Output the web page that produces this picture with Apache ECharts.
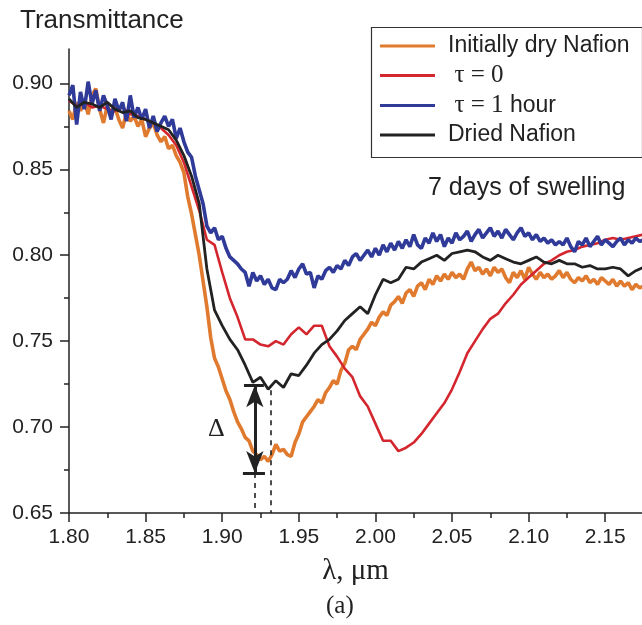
<!DOCTYPE html>
<html>
<head>
<meta charset="utf-8">
<script src="https://cdn.jsdelivr.net/npm/echarts@6/dist/echarts.min.js"></script>
<style>
  body { margin: 0; background: #fff; }
  #chart { width: 642px; height: 625px; }
</style>
</head>
<body>
<div id="chart"></div>
<script>
// wavelength grid (um)
const startWl = 1.80
const fineStep = 0.0025
const coarseStep = 0.005

const seriesNames = ['Initially dry Nafion', 'τ = 0', 'τ = 1 hour', 'Dried Nafion']
const xTickValues = [1.80, 1.85, 1.90, 1.95, 2.00, 2.05, 2.10, 2.15]
const xMinorValues = [1.825, 1.875, 1.925, 1.975, 2.025, 2.075, 2.125]
const yTickValues = [0.65, 0.70, 0.75, 0.80, 0.85, 0.90]
const yMinorValues = [0.675, 0.725, 0.775, 0.825, 0.875]

// initially dry Nafion, step 0.0025
const dryValues = [
  0.884, 0.879, 0.889, 0.884, 0.890, 0.882, 0.893, 0.897, 0.885, 0.877,
  0.887, 0.881, 0.886, 0.879, 0.874, 0.883, 0.878, 0.881, 0.875, 0.879,
  0.869, 0.874, 0.877, 0.870, 0.866, 0.869, 0.862, 0.864, 0.858, 0.854,
  0.848, 0.834, 0.824, 0.812, 0.800, 0.785, 0.770, 0.752, 0.740, 0.735,
  0.728, 0.721, 0.716, 0.709, 0.703, 0.699, 0.694, 0.692, 0.686, 0.684,
  0.681, 0.683, 0.680, 0.684, 0.690, 0.686, 0.687, 0.684, 0.683, 0.691,
  0.696, 0.703, 0.706, 0.709, 0.712, 0.716, 0.714, 0.720, 0.723, 0.727,
  0.725, 0.733, 0.737, 0.745, 0.747, 0.745, 0.751, 0.754, 0.757, 0.761,
  0.759, 0.764, 0.767, 0.765, 0.771, 0.773, 0.776, 0.772, 0.778, 0.780,
  0.776, 0.782, 0.784, 0.780, 0.786, 0.783, 0.788, 0.785, 0.789, 0.786,
  0.790, 0.787, 0.789, 0.786, 0.792, 0.796, 0.791, 0.793, 0.789, 0.792,
  0.788, 0.793, 0.790, 0.792, 0.787, 0.784, 0.790, 0.787, 0.791, 0.786,
  0.793, 0.789, 0.786, 0.790, 0.787, 0.789, 0.786, 0.788, 0.791, 0.787,
  0.790, 0.786, 0.784, 0.787, 0.785, 0.788, 0.784, 0.786, 0.783, 0.787,
  0.785, 0.783, 0.786, 0.782, 0.785, 0.782, 0.784, 0.780, 0.783, 0.781,
  0.782
]

// tau = 0, step 0.005
const tau0Values = [
  0.890, 0.887, 0.889, 0.886, 0.887, 0.885, 0.884, 0.886, 0.882, 0.881,
  0.879, 0.877, 0.874, 0.870, 0.864, 0.854, 0.840, 0.826, 0.809, 0.806,
  0.790, 0.775, 0.764, 0.751, 0.751, 0.748, 0.747, 0.750, 0.748, 0.754,
  0.758, 0.754, 0.759, 0.759, 0.747, 0.741, 0.734, 0.729, 0.718, 0.712,
  0.702, 0.692, 0.692, 0.686, 0.688, 0.691, 0.696, 0.702, 0.708, 0.714,
  0.722, 0.732, 0.743, 0.750, 0.757, 0.763, 0.766, 0.772, 0.777, 0.783,
  0.787, 0.791, 0.795, 0.797, 0.800, 0.802, 0.803, 0.805, 0.806, 0.807,
  0.809, 0.810, 0.809, 0.810, 0.811, 0.812
]

// tau = 1 hour, step 0.0025
const tau1Values = [
  0.893, 0.899, 0.876, 0.895, 0.885, 0.901, 0.888, 0.896, 0.884, 0.893,
  0.887, 0.879, 0.891, 0.884, 0.889, 0.878, 0.893, 0.880, 0.886, 0.879,
  0.885, 0.874, 0.881, 0.872, 0.877, 0.881, 0.875, 0.879, 0.868, 0.874,
  0.866, 0.860, 0.857, 0.846, 0.838, 0.830, 0.817, 0.813, 0.816, 0.809,
  0.811, 0.804, 0.799, 0.797, 0.795, 0.792, 0.790, 0.782, 0.790, 0.785,
  0.788, 0.783, 0.786, 0.781, 0.780, 0.786, 0.784, 0.786, 0.791, 0.787,
  0.792, 0.795, 0.789, 0.790, 0.781, 0.788, 0.786, 0.791, 0.793, 0.790,
  0.794, 0.792, 0.797, 0.794, 0.799, 0.801, 0.797, 0.800, 0.803, 0.799,
  0.804, 0.800, 0.806, 0.802, 0.807, 0.803, 0.808, 0.804, 0.809, 0.805,
  0.812, 0.806, 0.804, 0.810, 0.807, 0.813, 0.808, 0.812, 0.805, 0.810,
  0.807, 0.813, 0.809, 0.811, 0.814, 0.808, 0.812, 0.815, 0.810, 0.813,
  0.816, 0.811, 0.814, 0.810, 0.815, 0.812, 0.809, 0.813, 0.816, 0.811,
  0.813, 0.809, 0.812, 0.808, 0.810, 0.807, 0.809, 0.806, 0.808, 0.806,
  0.810, 0.805, 0.802, 0.808, 0.806, 0.810, 0.805, 0.808, 0.811, 0.806,
  0.809, 0.807, 0.805, 0.808, 0.810, 0.806, 0.809, 0.807, 0.810, 0.808,
  0.809
]

// dried Nafion, step 0.005
const driedValues = [
  0.891, 0.886, 0.889, 0.888, 0.886, 0.889, 0.885, 0.883, 0.884, 0.880,
  0.879, 0.877, 0.875, 0.873, 0.867, 0.858, 0.846, 0.830, 0.792, 0.768,
  0.759, 0.751, 0.745, 0.736, 0.726, 0.729, 0.722, 0.727, 0.723, 0.731,
  0.730, 0.736, 0.743, 0.748, 0.751, 0.756, 0.762, 0.766, 0.770, 0.766,
  0.777, 0.786, 0.784, 0.786, 0.793, 0.792, 0.796, 0.798, 0.800, 0.797,
  0.801, 0.802, 0.803, 0.802, 0.799, 0.797, 0.800, 0.798, 0.796, 0.795,
  0.797, 0.799, 0.796, 0.795, 0.797, 0.795, 0.795, 0.793, 0.794, 0.792,
  0.792, 0.793, 0.792, 0.788, 0.791, 0.793
]

// delta marker (data coords)
const deltaX = 1.9213
const dipX = 1.9318
const deltaTop = 0.7244
const deltaBottom = 0.6733

const pairs = (vals, step) => vals.map((v, i) => [+(startWl + i * step).toFixed(4), v])

const ink = '#222'
const sans = 'Liberation Sans'
const serif = 'Liberation Serif'

let myChart = echarts.init(document.getElementById('chart'))

const lineSeries = (name, vals, step, color, width) => ({
  type: 'line',
  name: name,
  data: pairs(vals, step),
  showSymbol: false,
  symbol: 'none',
  lineStyle: { color: color, width: width },
  itemStyle: { color: color }
})

const minorAxisX = {
  type: 'value', position: 'bottom', min: 1.8, max: 2.174,
  axisLine: { show: false }, splitLine: { show: false },
  axisLabel: { show: false },
  axisTick: { show: true, customValues: xMinorValues, length: 5, lineStyle: { color: ink, width: 1.5 } }
}
const minorAxisY = {
  type: 'value', position: 'left', min: 0.65, max: 0.92,
  axisLine: { show: false }, splitLine: { show: false },
  axisLabel: { show: false },
  axisTick: { show: true, customValues: yMinorValues, length: 5, lineStyle: { color: ink, width: 1.5 } }
}

const dashed = { type: [5, 5], width: 1.6, color: ink }

myChart.setOption({
  animation: false,
  grid: { left: 69, right: 0, top: 49, bottom: 112 },
  xAxis: [
    {
      type: 'value',
      position: 'bottom',
      min: 1.8,
      max: 2.174,
      interval: 0.05,
      name: 'λ, μm',
      nameLocation: 'middle',
      nameGap: 44,
      nameTextStyle: { fontFamily: serif, fontSize: 29, color: ink },
      axisLine: { lineStyle: { color: ink, width: 1.5 } },
      axisTick: { customValues: xTickValues, length: 9, lineStyle: { color: ink, width: 1.5 } },
      axisLabel: {
        customValues: xTickValues,
        formatter: v => v.toFixed(2),
        margin: 14,
        fontFamily: sans, fontSize: 21, color: ink
      },
      splitLine: { show: false }
    },
    minorAxisX
  ],
  yAxis: [
    {
      type: 'value',
      position: 'left',
      min: 0.65,
      max: 0.92,
      interval: 0.05,
      axisLine: { show: true, lineStyle: { color: ink, width: 1.5 } },
      axisTick: { show: true, customValues: yTickValues, length: 9, lineStyle: { color: ink, width: 1.5 } },
      axisLabel: {
        customValues: yTickValues,
        formatter: v => v.toFixed(2),
        margin: 16,
        fontFamily: sans, fontSize: 21, color: ink
      },
      splitLine: { show: false }
    },
    minorAxisY
  ],
  legend: {
    data: seriesNames,
    orient: 'vertical',
    left: 380,
    top: 34,
    padding: 0,
    itemGap: 5,
    itemWidth: 55,
    itemHeight: 3,
    icon: 'rect',
    selectedMode: false,
    formatter: name => {
      if (name === 'τ = 0') return ' {s|τ = 0}'
      if (name === 'τ = 1 hour') return ' {s|τ = 1} hour'
      return name
    },
    textStyle: {
      fontFamily: sans, fontSize: 23, color: ink, lineHeight: 24,
      padding: [0, 0, 0, 8],
      rich: { s: { fontFamily: serif, fontSize: 25, color: ink, lineHeight: 24 } }
    }
  },
  graphic: [
    { type: 'rect', left: 369, top: 25, shape: { width: 271, height: 130 }, style: { fill: 'none', stroke: '#333', lineWidth: 1.2 } },
    { type: 'text', left: 20, top: 8, style: { text: 'Transmittance', font: '26px "Liberation Sans"', fill: ink } },
    { type: 'text', left: 428, top: 176, style: { text: '7 days of swelling', font: '25px "Liberation Sans"', fill: ink } },
    { type: 'text', left: 208, top: 416, style: { text: 'Δ', font: '26px "Liberation Serif"', fill: ink } },
    { type: 'text', left: 326, top: 594, style: { text: '(a)', font: '25px "Liberation Serif"', fill: ink } }
  ],
  series: [
    lineSeries(seriesNames[0], dryValues, fineStep, '#e07a2f', 3.6),
    lineSeries(seriesNames[1], tau0Values, coarseStep, '#d4262e', 2.6),
    lineSeries(seriesNames[2], tau1Values, fineStep, '#2f3a99', 3.6),
    lineSeries(seriesNames[3], driedValues, coarseStep, '#222222', 2.8),
    {
      type: 'line',
      name: 'delta',
      data: [],
      silent: true,
      markLine: {
        silent: true,
        animation: false,
        symbol: 'none',
        label: { show: false },
        emphasis: { disabled: true },
        lineStyle: { color: ink, width: 3, type: 'solid' },
        data: [
          [
            { coord: [deltaX, deltaTop], symbol: 'arrow', symbolSize: [13, 22] },
            { coord: [deltaX, deltaBottom], symbol: 'arrow', symbolSize: [13, 22] }
          ],
          [{ coord: [1.9142, deltaTop] }, { coord: [1.9272, deltaTop] }],
          [{ coord: [1.9135, deltaBottom] }, { coord: [1.9279, deltaBottom] }],
          [{ coord: [deltaX, deltaBottom], lineStyle: dashed }, { coord: [deltaX, 0.65] }],
          [{ coord: [dipX, 0.7215], lineStyle: dashed }, { coord: [dipX, 0.65] }]
        ]
      }
    }
  ]
})
</script>
</body>
</html>
